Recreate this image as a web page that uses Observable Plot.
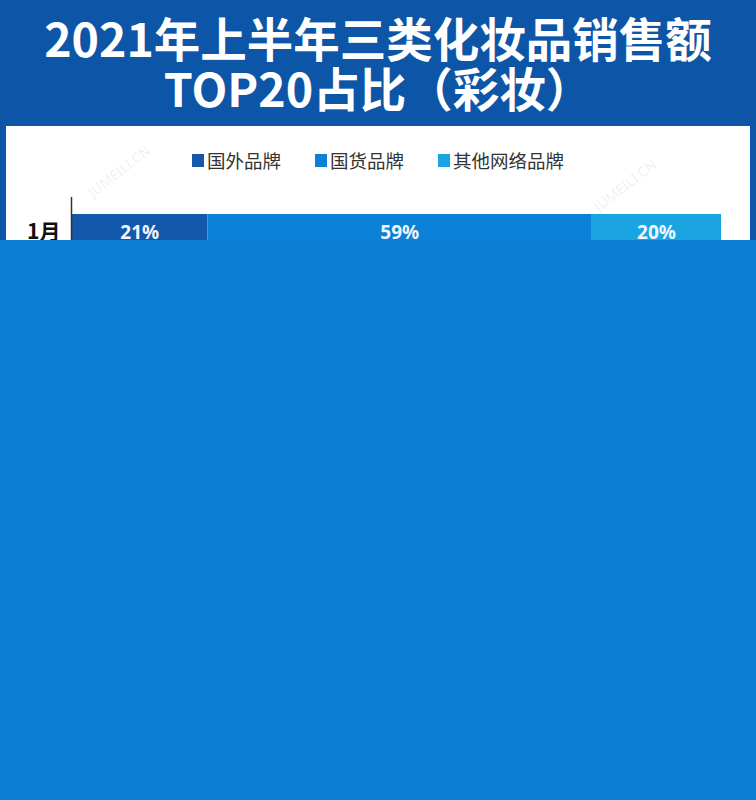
<!DOCTYPE html>
<html>
<head>
<meta charset="utf-8">
<script src="https://cdn.jsdelivr.net/npm/d3@7"></script>
<script src="https://cdn.jsdelivr.net/npm/@observablehq/plot@0.6"></script>
<style>
  html, body { margin: 0; padding: 0; }
  body { width: 756px; height: 800px; overflow: hidden; position: relative; background: #0d55a7; font-family: "Noto Sans CJK SC", "Noto Sans", sans-serif; }
  #title { position: absolute; left: 0; top: 12px; width: 756px; text-align: center; color: #fff; font-weight: 700; font-size: 46.5px; line-height: 50px; }
  #panel { position: absolute; left: 6px; top: 126px; width: 744px; height: 674px; background: #fff; overflow: hidden; }
  #legend { position: absolute; left: 0; top: 21px; width: 744px; display: flex; justify-content: center; gap: 34px; font-size: 18.5px; color: #333; }
  #legend .item { display: flex; align-items: center; gap: 3px; }
  #legend .sw { width: 12px; height: 13px; display: inline-block; }
  #chart { position: absolute; left: 0; top: 61px; }
  .wm { position: absolute; color: rgba(120,130,150,0.13); font-family: "Noto Sans", sans-serif; font-size: 14px; line-height: 16px; transform: rotate(-38deg); transform-origin: left center; white-space: nowrap; pointer-events: none; }
  #glitch { position: absolute; left: 0; top: 240px; width: 756px; height: 560px; background: #0c7fd4; }
</style>
</head>
<body>
<div id="title"></div>
<div id="panel">
  <div id="legend"></div>
  <div id="chart"></div>
</div>
<div id="glitch"></div>
<script>
// ---- data (only the 1月 row is legible) ----
const titleLines = ["2021年上半年三类化妆品销售额", "TOP20占比（彩妆）"];
const months = ["1月"];
const brandTypes = ["国外品牌", "国货品牌", "其他网络品牌"];
const colors = ["#1358ab", "#0a80d6", "#1ba4e2"];
const share_国外品牌 = [21];
const share_国货品牌 = [59];
const share_其他网络品牌 = [20];
const watermark = "JUMEILI.CN";

// title
document.getElementById("title").innerHTML = titleLines.join("<br>");

// legend
document.getElementById("legend").innerHTML = brandTypes.map((b, i) =>
  `<span class="item"><span class="sw" style="background:${colors[i]}"></span>${b}</span>`).join("");

// watermarks
const panel = document.getElementById("panel");
[[84, 60], [590, 74]].forEach(([l, t]) => {
  const d = document.createElement("div");
  d.className = "wm"; d.style.left = l + "px"; d.style.top = t + "px"; d.textContent = watermark;
  panel.appendChild(d);
});

// table for the stacked bar
const seriesArrays = [share_国外品牌, share_国货品牌, share_其他网络品牌];
const rows = [];
months.forEach((m, mi) => brandTypes.forEach((b, bi) => rows.push({month: m, type: b, value: seriesArrays[bi][mi]})));

const chart = Plot.plot({
  width: 744,
  height: 80,
  marginTop: 10,
  marginBottom: 0,
  marginLeft: 65,
  marginRight: 29,
  x: {domain: [0, 100], axis: null},
  y: {domain: months, paddingInner: 0, paddingOuter: 0.472, align: 0.5, label: null},
  color: {domain: brandTypes, range: colors},
  style: {fontFamily: "'Noto Sans CJK SC', 'Noto Sans', sans-serif", background: "transparent"},
  marks: [
    Plot.barX(rows, Plot.stackX({x: "value", y: "month", fill: "type", order: brandTypes})),
    Plot.text(rows, Plot.stackX({x: "value", y: "month", z: "type", order: brandTypes,
      text: d => d.value + "%", fill: "#eef6ff", fontSize: 19, fontWeight: "bold",
      fontFamily: "'Noto Sans', sans-serif"})),
    Plot.ruleX([0], {stroke: "#333", strokeWidth: 1.5}),
    Plot.axisY({tickSize: 0, tickPadding: 11, fontSize: 21, fontWeight: "bold", fill: "#111", label: null})
  ]
});
document.getElementById("chart").appendChild(chart);
</script>
</body>
</html>
